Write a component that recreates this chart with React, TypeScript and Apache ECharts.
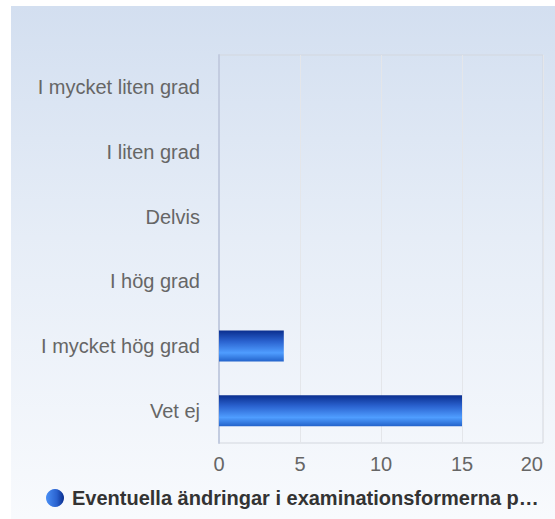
import React, { useEffect, useRef } from "react";
import * as echarts from "echarts";

const categories = [
  "I mycket liten grad",
  "I liten grad",
  "Delvis",
  "I hög grad",
  "I mycket hög grad",
  "Vet ej",
];
const values = [0, 0, 0, 0, 4, 15];
const seriesName = "Eventuella ändringar i examinationsformerna p…";
const xTicks = { min: 0, max: 20, interval: 5 };

const FONT = "'Liberation Sans', Arial, sans-serif";

export default function App() {
  const ref = useRef<HTMLDivElement>(null);
  useEffect(() => {
    if (!ref.current) return;
    const chart = echarts.init(ref.current, undefined, { renderer: "svg" });
    const barGrad = new echarts.graphic.LinearGradient(0, 0, 0, 1, [
      { offset: 0, color: "#0a2e8e" },
      { offset: 0.35, color: "#2a62cf" },
      { offset: 0.72, color: "#4f9dff" },
      { offset: 1, color: "#2363cb" },
    ]);
    const legendGrad = new echarts.graphic.LinearGradient(0, 0, 1, 0, [
      { offset: 0, color: "#4a8ff5" },
      { offset: 0.6, color: "#2a62cf" },
      { offset: 1, color: "#0a2e8e" },
    ]);
    chart.setOption({
      animation: false,
      grid: {
        left: 208,
        top: 49,
        right: 12,
        bottom: 76,
        show: true,
        borderColor: "#d3d7de",
        borderWidth: 1,
        backgroundColor: "transparent",
      },
      legend: {
        left: 30,
        top: 477,
        icon: "circle",
        itemWidth: 18,
        itemHeight: 18,
        data: [{ name: seriesName, itemStyle: { color: legendGrad } }],
        textStyle: {
          fontFamily: FONT,
          fontSize: 20,
          fontWeight: "bold",
          color: "#333",
          padding: [0, 0, 0, 3],
        },
      },
      xAxis: {
        type: "value",
        min: xTicks.min,
        max: xTicks.max,
        interval: xTicks.interval,
        axisLine: { show: false },
        axisTick: { show: false },
        splitLine: { show: true, lineStyle: { color: "#e4e6ea", width: 1 } },
        axisLabel: {
          fontFamily: FONT,
          fontSize: 20,
          color: "#666",
          margin: 11,
          alignMaxLabel: "right",
        },
      },
      yAxis: {
        type: "category",
        data: categories,
        inverse: true,
        axisTick: { show: false },
        axisLine: { show: true, lineStyle: { color: "#c3cce0", width: 2 } },
        splitLine: { show: false },
        axisLabel: {
          fontFamily: FONT,
          fontSize: 20,
          color: "#666",
          margin: 19,
        },
      },
      series: [
        {
          name: seriesName,
          type: "bar",
          data: values,
          barWidth: 31,
          itemStyle: {
            color: barGrad,
          },
        },
      ],
    });
    return () => chart.dispose();
  }, []);
  return (
    <div
      ref={ref}
      style={{
        position: "absolute",
        left: 11,
        top: 6,
        width: 544,
        height: 513,
        background: "linear-gradient(to bottom, #d3dff0 0%, #e6edf7 45%, #f8fafd 100%)",
      }}
    />
  );
}
